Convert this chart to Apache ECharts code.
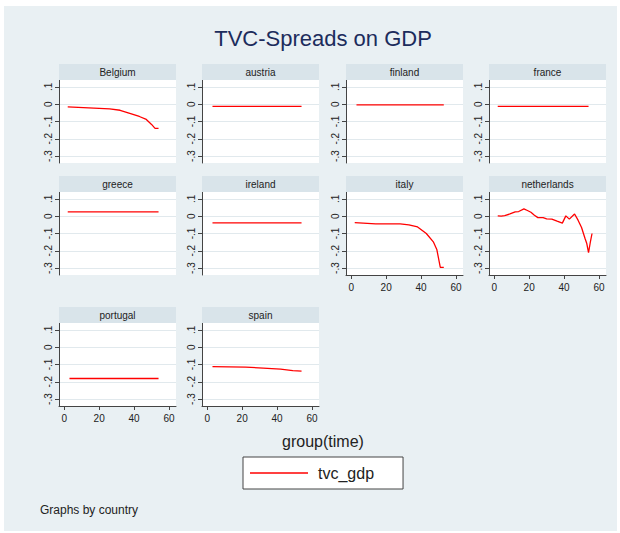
<!DOCTYPE html>
<html><head><meta charset="utf-8">
<script src="https://cdn.jsdelivr.net/npm/echarts@6/dist/echarts.min.js"></script>
<style>html,body{margin:0;padding:0;background:#fff}#c{width:620px;height:533px}</style>
</head><body><div id="c"></div>
<script>
// ---- data (time, tvc_gdp) ----
const countries = ['Belgium','austria','finland','france','greece','ireland','italy','netherlands','portugal','spain'];
const belgium = [[2,-0.015],[14,-0.021],[26,-0.027],[32,-0.035],[38,-0.054],[43,-0.071],[47,-0.088],[50,-0.117],[52,-0.14],[54,-0.14]];
const austria = [[3,-0.012],[54,-0.012]];
const finland = [[3,-0.004],[53,-0.004]];
const france = [[2,-0.013],[54,-0.013]];
const greece = [[2,0.025],[54,0.025]];
const ireland = [[3,-0.038],[54,-0.038]];
const italy = [[2,-0.037],[14,-0.044],[28,-0.044],[33,-0.05],[38,-0.062],[43,-0.1],[47,-0.148],[49,-0.192],[51,-0.296],[53,-0.296]];
const netherlands = [[2,0.002],[4,0],[6,0.004],[9,0.013],[12,0.025],[14,0.027],[17,0.042],[19,0.033],[21,0.023],[23,0.006],[25,-0.008],[28,-0.008],[30,-0.015],[33,-0.017],[36,-0.029],[39,-0.04],[41,0.002],[43,-0.017],[46,0.013],[48,-0.023],[50,-0.065],[52,-0.129],[53,-0.158],[54,-0.21],[55,-0.152],[56,-0.1]];
const portugal = [[3,-0.181],[54,-0.181]];
const spain = [[3,-0.112],[22,-0.115],[32,-0.121],[42,-0.127],[49,-0.135],[54,-0.138]];
const panelData = [belgium, austria, finland, france, greece, ireland, italy, netherlands, portugal, spain];
const yTicks = [-0.3,-0.2,-0.1,0,0.1];
const xTicks = [0,20,40,60];
const withXAxis = ['italy','netherlands','portugal','spain'];

// ---- layout ----
const colLeft = [59, 202, 346, 489];
const rowTop = [80, 192, 323];
const W = 117, H = 83, STRIP = 16;
const FONT = "'Liberation Sans', Arial, Helvetica, sans-serif";
const yMin = -0.34, yMax = 0.14, xMin = -3, xMax = 64;

function fmtY(v){
  if (Math.abs(v) < 1e-9) return '0';
  let s = v.toFixed(1);
  return s.replace('0.', '.');
}

const grids = [], xAxes = [], yAxes = [], series = [];
const graphics = [
  {type:'rect', shape:{x:4,y:6,width:613,height:525}, style:{fill:'#e9f0f3'}, z:-10, silent:true},
  {type:'text', x:323, y:38, style:{text:'TVC-Spreads on GDP', font:'22px '+FONT, fill:'#1c2c5c', textAlign:'center', textVerticalAlign:'middle'}, z:10},
  {type:'text', x:323, y:441, style:{text:'group(time)', font:'16px '+FONT, fill:'#222', textAlign:'center', textVerticalAlign:'middle'}, z:10},
  {type:'text', x:40, y:510, style:{text:'Graphs by country', font:'12px '+FONT, fill:'#222', textAlign:'left', textVerticalAlign:'middle'}, z:10}
];

countries.forEach((name, i) => {
  const r = Math.floor(i/4), c = i % 4;
  const left = colLeft[c], top = rowTop[r];
  grids.push({left:left, top:top, width:W, height:H, show:true, backgroundColor:'#ffffff', borderWidth:0, containLabel:false});
  const showX = withXAxis.includes(name);
  xAxes.push({
    type:'value', gridIndex:i, min:xMin, max:xMax, position:'bottom',
    show: showX,
    axisLine:{show:showX, onZero:false, lineStyle:{color:'#444', width:1}},
    axisTick:{show:showX, length:4, customValues:xTicks, lineStyle:{color:'#444'}},
    axisLabel:{show:showX, customValues:xTicks, fontSize:10, color:'#222', margin:7, fontFamily:FONT},
    splitLine:{show:false}
  });
  yAxes.push({
    type:'value', gridIndex:i, min:yMin, max:yMax, position:'left',
    axisLine:{show:true, onZero:false, lineStyle:{color:'#444', width:1}},
    axisTick:{show:true, length:4, customValues:yTicks, lineStyle:{color:'#444'}},
    axisLabel:{show:true, customValues:yTicks, rotate:90, fontSize:10, color:'#222', margin:6, fontFamily:FONT, formatter:fmtY},
    splitLine:{show:true, lineStyle:{color:'#e1e9ed', width:1}}
  });
  series.push({
    name:'tvc_gdp', type:'line', xAxisIndex:i, yAxisIndex:i,
    data: panelData[i], symbol:'none', showSymbol:false,
    lineStyle:{color:'#ff0000', width:1.3}, itemStyle:{color:'#ff0000'},
    silent:true, animation:false
  });
  graphics.push({type:'rect', shape:{x:left, y:top-STRIP, width:W, height:STRIP}, style:{fill:'#d9e4ea'}, z:5, silent:true});
  graphics.push({type:'text', x:left+W/2, y:top-STRIP/2, style:{text:name, font:'10px '+FONT, fill:'#222', textAlign:'center', textVerticalAlign:'middle'}, z:6});
});

const chart = echarts.init(document.getElementById('c'), null, {renderer:'svg'});
chart.setOption({
  animation:false,
  textStyle:{fontFamily:FONT},
  grid:grids, xAxis:xAxes, yAxis:yAxes, series:series,
  legend:{
    data:[{name:'tvc_gdp', icon:'rect'}], left:243, top:457, orient:'horizontal',
    itemWidth:58, itemHeight:1.6, padding:[8,29,8,7],
    itemStyle:{color:'#ff0000', borderWidth:0},
    backgroundColor:'#fff', borderColor:'#444', borderWidth:1, borderRadius:0,
    textStyle:{fontSize:16, color:'#222', fontFamily:FONT, padding:[0,0,0,5]},
    selectedMode:false
  },
  graphic:{elements:graphics}
});
</script>
</body></html>
